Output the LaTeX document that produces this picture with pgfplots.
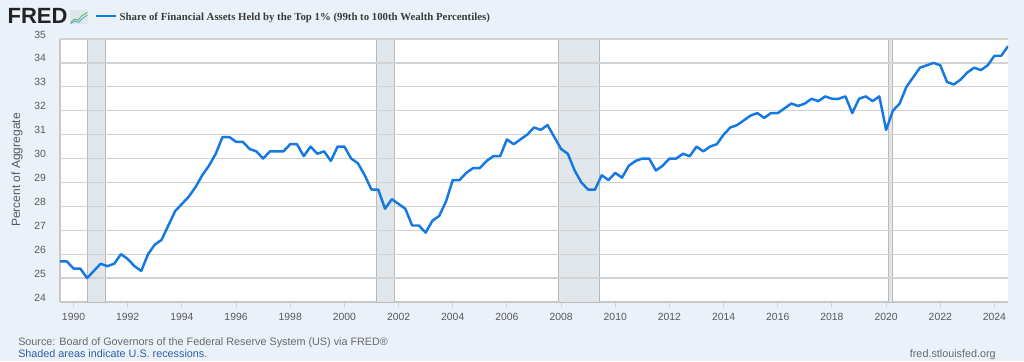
\documentclass[border=0pt]{standalone}
\usepackage{fontspec}
\setmainfont{Liberation Sans}
\newfontfamily\titlefont{Liberation Serif}
\usepackage{pgfplots}
\pgfplotsset{compat=1.18}
\definecolor{bgc}{RGB}{234,241,249}
\definecolor{gridc}{RGB}{210,210,210}
\definecolor{axc}{RGB}{200,200,200}
\definecolor{recc}{RGB}{225,230,235}
\definecolor{recedge}{RGB}{185,185,185}
\definecolor{linec}{RGB}{22,120,225}
\definecolor{tickc}{RGB}{90,90,90}
\definecolor{titc}{RGB}{60,60,60}
\definecolor{srcc}{RGB}{105,105,105}
\definecolor{shadec}{RGB}{45,95,165}
\definecolor{logoc}{RGB}{35,35,35}
\begin{document}
\begin{tikzpicture}
\useasboundingbox (0,0) rectangle (768pt,270.75pt);
\fill[bgc] (0,0) rectangle (768pt,270.75pt);
% header
\node[anchor=base west, inner sep=0, font=\bfseries\fontsize{16.5}{17}\selectfont, text=logoc] at (5.5pt,253.3pt) {FRED};
\fill[recc] (52.5pt,252.5pt) rectangle (66pt,263pt);
\draw[green!50!gray, line width=0.6pt] (53pt,254pt) -- (56pt,256.5pt) -- (58.5pt,255.5pt) -- (61.5pt,259pt) -- (65.5pt,261.5pt);
\draw[linec!70, line width=0.6pt] (53pt,253pt) -- (56pt,255pt) -- (59pt,254pt) -- (62pt,257pt) -- (65.5pt,259.5pt);
\draw[linec, line width=1.8pt] (72pt,258.75pt) -- (87pt,258.75pt);
\node[anchor=base west, inner sep=0, font=\titlefont\bfseries\fontsize{8.1}{10}\selectfont, text=titc] at (89.5pt,255.6pt) {Share of Financial Assets Held by the Top 1\% (99th to 100th Wealth Percentiles)};
% y label
\node[rotate=90, inner sep=0, font=\fontsize{9}{11}\selectfont, text=tickc] at (12.75pt,143.25pt) {Percent of Aggregate};
% footer
\node[anchor=base west, inner sep=0, font=\fontsize{8.1}{10}\selectfont, text=srcc] at (13.5pt,11.6pt) {Source: Board of Governors of the Federal Reserve System (US) via FRED®};
\node[anchor=base west, inner sep=0, font=\fontsize{8.1}{10}\selectfont, text=shadec] at (13.5pt,2.6pt) {Shaded areas indicate U.S. recessions.};
\node[anchor=base east, inner sep=0, font=\fontsize{8.1}{10}\selectfont, text=srcc] at (747pt,2.6pt) {fred.stlouisfed.org};
\begin{axis}[
  at={(45pt,44.25pt)}, anchor=south west,
  scale only axis, width=711pt, height=197.25pt,
  xmin=1989.5, xmax=2024.5, ymin=24, ymax=35,
  axis background/.style={fill=white},
  xtick={1990,1992,...,2024},
  ytick={24,25,...,35},
  axis x line=bottom, axis y line=left,
  axis line style={-, draw=axc, line width=0.8pt},
  tick align=outside,
  major tick length=4pt,
  xtick style={draw=gridc, line width=0.7pt},
  ytick style={draw=none},
  /pgf/number format/assume math mode=true,
  tick label style={font=\fontsize{7.8}{9}\selectfont, text=tickc},
  x tick label style={/pgf/number format/1000 sep={}, yshift=-1pt},
  y tick label style={xshift=-3pt, yshift=3.4pt},
  clip=true,
]
\addplot[fill=recc, draw=recedge, line width=0.7pt] coordinates {(1990.5,24) (1990.5,35) (1991.167,35) (1991.167,24) (1990.5,24)};
\addplot[fill=recc, draw=recedge, line width=0.7pt] coordinates {(2001.167,24) (2001.167,35) (2001.833,35) (2001.833,24) (2001.167,24)};
\addplot[fill=recc, draw=recedge, line width=0.7pt] coordinates {(2007.917,24) (2007.917,35) (2009.417,35) (2009.417,24) (2007.917,24)};
\addplot[fill=recc, draw=recedge, line width=0.7pt] coordinates {(2020.083,24) (2020.083,35) (2020.25,35) (2020.25,24) (2020.083,24)};
\pgfplotsinvokeforeach{25,...,35}{\draw[gridc, line width=0.9pt] (axis cs:1989.5,#1) -- (axis cs:2024.5,#1);}
\addplot[linec, line width=1.85pt, line join=round, mark=none] table {
x y
1989.5 25.7
1989.75 25.7
1990.0 25.4
1990.25 25.4
1990.5 25.0
1990.75 25.3
1991.0 25.6
1991.25 25.5
1991.5 25.6
1991.75 26.0
1992.0 25.8
1992.25 25.5
1992.5 25.3
1992.75 26.0
1993.0 26.4
1993.25 26.6
1993.5 27.2
1993.75 27.8
1994.0 28.1
1994.25 28.4
1994.5 28.8
1994.75 29.3
1995.0 29.7
1995.25 30.2
1995.5 30.9
1995.75 30.9
1996.0 30.7
1996.25 30.7
1996.5 30.4
1996.75 30.3
1997.0 30.0
1997.25 30.3
1997.5 30.3
1997.75 30.3
1998.0 30.6
1998.25 30.6
1998.5 30.1
1998.75 30.5
1999.0 30.2
1999.25 30.3
1999.5 29.9
1999.75 30.5
2000.0 30.5
2000.25 30.0
2000.5 29.8
2000.75 29.3
2001.0 28.7
2001.25 28.7
2001.5 27.9
2001.75 28.3
2002.0 28.1
2002.25 27.9
2002.5 27.2
2002.75 27.2
2003.0 26.9
2003.25 27.4
2003.5 27.6
2003.75 28.2
2004.0 29.1
2004.25 29.1
2004.5 29.4
2004.75 29.6
2005.0 29.6
2005.25 29.9
2005.5 30.1
2005.75 30.1
2006.0 30.8
2006.25 30.6
2006.5 30.8
2006.75 31.0
2007.0 31.3
2007.25 31.2
2007.5 31.4
2007.75 30.9
2008.0 30.4
2008.25 30.2
2008.5 29.5
2008.75 29.0
2009.0 28.7
2009.25 28.7
2009.5 29.3
2009.75 29.1
2010.0 29.4
2010.25 29.2
2010.5 29.7
2010.75 29.9
2011.0 30.0
2011.25 30.0
2011.5 29.5
2011.75 29.7
2012.0 30.0
2012.25 30.0
2012.5 30.2
2012.75 30.1
2013.0 30.5
2013.25 30.3
2013.5 30.5
2013.75 30.6
2014.0 31.0
2014.25 31.3
2014.5 31.4
2014.75 31.6
2015.0 31.8
2015.25 31.9
2015.5 31.7
2015.75 31.9
2016.0 31.9
2016.25 32.1
2016.5 32.3
2016.75 32.2
2017.0 32.3
2017.25 32.5
2017.5 32.4
2017.75 32.6
2018.0 32.5
2018.25 32.5
2018.5 32.6
2018.75 31.9
2019.0 32.5
2019.25 32.6
2019.5 32.4
2019.75 32.6
2020.0 31.2
2020.25 32.0
2020.5 32.3
2020.75 33.0
2021.0 33.4
2021.25 33.8
2021.5 33.9
2021.75 34.0
2022.0 33.9
2022.25 33.2
2022.5 33.1
2022.75 33.3
2023.0 33.6
2023.25 33.8
2023.5 33.7
2023.75 33.9
2024.0 34.3
2024.25 34.3
2024.5 34.7
};
\end{axis}
\end{tikzpicture}
\end{document}
